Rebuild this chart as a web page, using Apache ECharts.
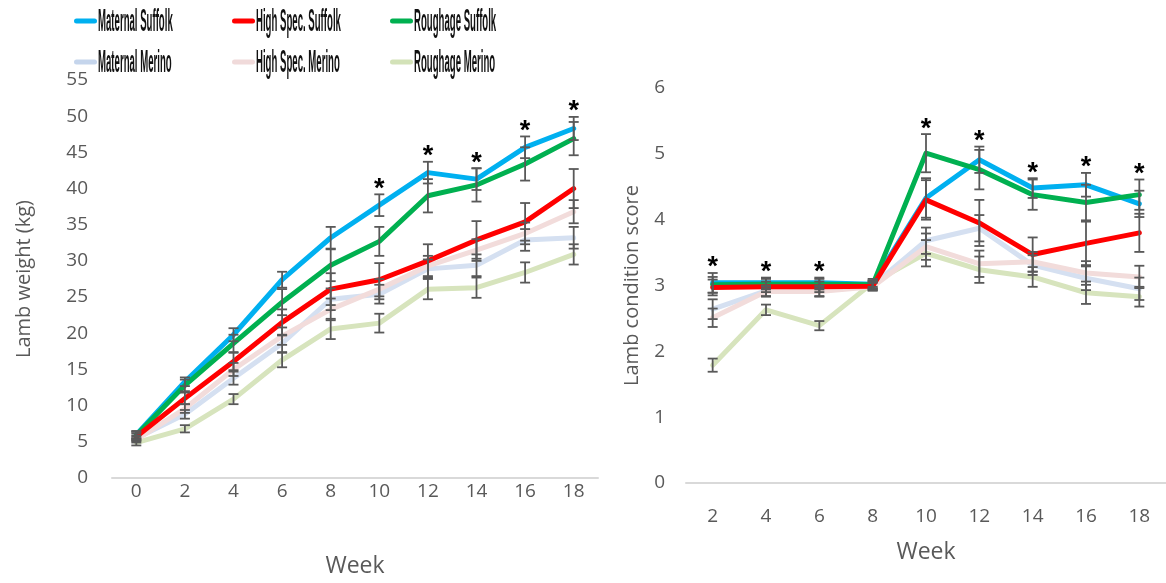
<!DOCTYPE html>
<html>
<head>
<meta charset="utf-8">
<script src="https://cdn.jsdelivr.net/npm/echarts@6/dist/echarts.min.js"></script>
<style>
  html, body { margin: 0; padding: 0; background: #fff; }
  #chart { width: 1166px; height: 583px; }
</style>
</head>
<body>
<div id="chart"></div>
<script>
// Weeks on each panel
const weeksWeight = ['0', '2', '4', '6', '8', '10', '12', '14', '16', '18'];
const weeksScore = ['2', '4', '6', '8', '10', '12', '14', '16', '18'];

// Group names (legend order)
const groupNames = ['Maternal Suffolk', 'High Spec. Suffolk', 'Roughage Suffolk',
                    'Maternal Merino', 'High Spec. Merino', 'Roughage Merino'];

// Lamb weight (kg), mean per week
const weightMaternalSuffolk = [6.0, 13.3, 19.8, 27.4, 33.2, 37.7, 42.2, 41.3, 45.7, 48.3];
const weightHighSpecSuffolk = [5.7, 11.0, 16.1, 21.5, 26.1, 27.4, 30.0, 32.9, 35.4, 40.0];
const weightRoughageSuffolk = [5.9, 12.8, 18.6, 24.3, 29.4, 32.7, 39.0, 40.5, 43.4, 46.9];
const weightMaternalMerino  = [5.5, 8.8, 13.8, 18.6, 24.7, 25.4, 28.9, 29.4, 32.9, 33.2];
const weightHighSpecMerino  = [5.3, 9.6, 15.0, 19.6, 23.3, 26.1, 29.3, 31.5, 33.8, 36.8];
const weightRoughageMerino  = [4.9, 6.8, 10.9, 16.3, 20.6, 21.4, 26.1, 26.3, 28.4, 30.9];

// Lamb weight standard errors
const weightErrMaternalSuffolk = [0.5, 0.6, 0.9, 1.1, 1.5, 1.5, 1.5, 1.5, 1.5, 1.6];
const weightErrHighSpecSuffolk = [0.5, 0.8, 1.2, 1.8, 2.2, 2.3, 2.3, 2.6, 2.6, 2.7];
const weightErrRoughageSuffolk = [0.5, 0.8, 1.2, 1.8, 2.2, 2.0, 2.3, 2.3, 2.3, 2.3];
const weightErrMaternalMerino  = [0.4, 0.6, 0.9, 1.2, 1.5, 1.3, 1.3, 1.5, 1.5, 1.5];
const weightErrHighSpecMerino  = [0.4, 0.6, 0.9, 1.2, 1.5, 1.4, 1.4, 1.5, 1.5, 1.6];
const weightErrRoughageMerino  = [0.4, 0.5, 0.7, 1.0, 1.4, 1.3, 1.4, 1.4, 1.4, 1.4];

// Lamb condition score, mean per week
const scoreMaternalSuffolk = [3.04, 3.04, 3.04, 3.02, 4.33, 4.91, 4.48, 4.53, 4.24];
const scoreHighSpecSuffolk = [2.97, 2.98, 2.98, 2.99, 4.30, 3.95, 3.47, 3.64, 3.80];
const scoreRoughageSuffolk = [3.01, 3.02, 3.02, 3.01, 5.01, 4.76, 4.38, 4.26, 4.38];
const scoreMaternalMerino  = [2.64, 2.92, 2.92, 3.00, 3.68, 3.87, 3.31, 3.11, 2.95];
const scoreHighSpecMerino  = [2.51, 2.91, 2.91, 2.98, 3.59, 3.33, 3.36, 3.19, 3.13];
const scoreRoughageMerino  = [1.79, 2.63, 2.39, 3.04, 3.49, 3.24, 3.13, 2.89, 2.83];

// Condition score standard errors
const scoreErrMaternalSuffolk = [0.15, 0.08, 0.08, 0.06, 0.30, 0.20, 0.15, 0.18, 0.20];
const scoreErrHighSpecSuffolk = [0.12, 0.08, 0.08, 0.06, 0.30, 0.35, 0.26, 0.33, 0.29];
const scoreErrRoughageSuffolk = [0.12, 0.08, 0.08, 0.06, 0.29, 0.30, 0.23, 0.27, 0.23];
const scoreErrMaternalMerino  = [0.15, 0.08, 0.08, 0.06, 0.20, 0.20, 0.15, 0.18, 0.17];
const scoreErrHighSpecMerino  = [0.14, 0.08, 0.08, 0.06, 0.20, 0.20, 0.15, 0.18, 0.17];
const scoreErrRoughageMerino  = [0.10, 0.08, 0.07, 0.06, 0.20, 0.20, 0.15, 0.17, 0.15];

// Weeks with a significant difference (1 = marked with *)
const sigWeight = [0, 0, 0, 0, 0, 1, 1, 1, 1, 1];
const sigScore  = [1, 1, 1, 0, 1, 1, 1, 1, 1];

// Axis ticks
const weightTicks = { min: 0, max: 55, interval: 5 };
const scoreTicks  = { min: 0, max: 6, interval: 1 };

const colors = ['#00B0F0', '#FF0000', '#00B050', '#D5E0F1', '#F2DCDB', '#D7E4BD'];
const legendColors = ['#00B0F0', '#FF0000', '#00B050', '#C5D5EC', '#F0DADA', '#D3E2B8'];

const weightMeans = [weightMaternalSuffolk, weightHighSpecSuffolk, weightRoughageSuffolk,
                     weightMaternalMerino, weightHighSpecMerino, weightRoughageMerino];
const weightErrs = [weightErrMaternalSuffolk, weightErrHighSpecSuffolk, weightErrRoughageSuffolk,
                    weightErrMaternalMerino, weightErrHighSpecMerino, weightErrRoughageMerino];
const scoreMeans = [scoreMaternalSuffolk, scoreHighSpecSuffolk, scoreRoughageSuffolk,
                    scoreMaternalMerino, scoreHighSpecMerino, scoreRoughageMerino];
const scoreErrs = [scoreErrMaternalSuffolk, scoreErrHighSpecSuffolk, scoreErrRoughageSuffolk,
                   scoreErrMaternalMerino, scoreErrHighSpecMerino, scoreErrRoughageMerino];

// Paint order: pale Merino lines underneath, Suffolk lines on top (red last)
const drawOrder = [5, 3, 4, 0, 2, 1];

const AXIS_GREY = '#595959';
const FONT = '"Open Sans", "DejaVu Sans", sans-serif';

function errorBarData(means, errs) {
  const out = [];
  means.forEach((arr, s) => {
    arr.forEach((v, i) => out.push([i, v - errs[s][i], v + errs[s][i]]));
  });
  return out;
}

function starData(means, errs, sig) {
  const out = [];
  sig.forEach((flag, i) => {
    if (!flag) return;
    let top = -Infinity;
    means.forEach((arr, s) => { top = Math.max(top, arr[i] + errs[s][i]); });
    out.push([i, top]);
  });
  return out;
}

function renderErrorBar(params, api) {
  const hi = api.coord([api.value(0), api.value(2)]);
  const lo = api.coord([api.value(0), api.value(1)]);
  const half = 5;
  const style = { stroke: AXIS_GREY, lineWidth: 1.8 };
  return {
    type: 'group',
    children: [
      { type: 'line', shape: { x1: hi[0], y1: hi[1], x2: lo[0], y2: lo[1] }, style },
      { type: 'line', shape: { x1: hi[0] - half, y1: hi[1], x2: hi[0] + half, y2: hi[1] }, style },
      { type: 'line', shape: { x1: lo[0] - half, y1: lo[1], x2: lo[0] + half, y2: lo[1] }, style }
    ]
  };
}

function renderStar(params, api) {
  const p = api.coord([api.value(0), api.value(1)]);
  return {
    type: 'text',
    x: p[0],
    y: p[1] - 5,
    style: {
      text: '*', align: 'center', verticalAlign: 'middle',
      fontSize: 27, fontWeight: 'bold',
      fontFamily: '"Liberation Sans", Arial, sans-serif', fill: '#000'
    }
  };
}

const series = [];
[[weightMeans, 0], [scoreMeans, 1]].forEach(([means, g]) => {
  drawOrder.forEach(s => {
    series.push({
      name: groupNames[s],
      type: 'line',
      xAxisIndex: g, yAxisIndex: g,
      data: means[s],
      showSymbol: false,
      symbol: 'none',
      lineStyle: { color: colors[s], width: 5, cap: 'round', join: 'round' },
      itemStyle: { color: colors[s] },
      z: 2,
      animation: false
    });
  });
});
series.push({
  type: 'custom', xAxisIndex: 0, yAxisIndex: 0,
  data: errorBarData(weightMeans, weightErrs), renderItem: renderErrorBar,
  encode: { x: 0, y: [1, 2] }, z: 5, silent: true, animation: false
});
series.push({
  type: 'custom', xAxisIndex: 1, yAxisIndex: 1,
  data: errorBarData(scoreMeans, scoreErrs), renderItem: renderErrorBar,
  encode: { x: 0, y: [1, 2] }, z: 5, silent: true, animation: false
});
series.push({
  type: 'custom', xAxisIndex: 0, yAxisIndex: 0,
  data: starData(weightMeans, weightErrs, sigWeight), renderItem: renderStar,
  encode: { x: 0, y: 1 }, z: 6, silent: true, animation: false, clip: false
});
series.push({
  type: 'custom', xAxisIndex: 1, yAxisIndex: 1,
  data: starData(scoreMeans, scoreErrs, sigScore), renderItem: renderStar,
  encode: { x: 0, y: 1 }, z: 6, silent: true, animation: false, clip: false
});

// Legend: two rows of three, line swatch plus condensed label
const legendCols = [74, 232, 390];
const legendRows = [21, 62];
const legendGraphics = [];
groupNames.forEach((name, i) => {
  const x = legendCols[i % 3];
  const y = legendRows[Math.floor(i / 3)];
  legendGraphics.push({
    type: 'rect', x: x, y: y - 2.5,
    shape: { width: 23, height: 5, r: 2.5 },
    style: { fill: legendColors[i] }
  });
  legendGraphics.push({
    type: 'text', x: x + 24, y: y + 1, scaleX: 0.31, scaleY: 1,
    style: {
      text: name, fill: '#111', verticalAlign: 'middle', align: 'left',
      fontSize: 31, fontWeight: 'bold',
      fontFamily: '"Liberation Sans", Arial, sans-serif'
    }
  });
});

function xAxisFor(data, gridIndex, labelMargin, nameGap) {
  return {
    type: 'category', gridIndex, data,
    boundaryGap: true,
    name: 'Week', nameLocation: 'middle', nameGap,
    nameTextStyle: { color: AXIS_GREY, fontSize: 23, fontFamily: FONT },
    axisLine: { show: true, lineStyle: { color: '#D9D9D9', width: 2 } },
    axisTick: { show: false },
    axisLabel: { color: AXIS_GREY, fontSize: 19, fontFamily: FONT, margin: labelMargin, interval: 0 },
    splitLine: { show: false }
  };
}

function yAxisFor(ticks, gridIndex, name, nameGap, labelMargin) {
  return {
    type: 'value', gridIndex,
    min: ticks.min, max: ticks.max, interval: ticks.interval,
    name, nameLocation: 'middle', nameGap,
    nameTextStyle: { color: AXIS_GREY, fontSize: 20, fontFamily: FONT },
    axisLine: { show: false }, axisTick: { show: false },
    axisLabel: { color: AXIS_GREY, fontSize: 19, fontFamily: FONT, margin: labelMargin },
    splitLine: { show: false }
  };
}

const option = {
  backgroundColor: '#fff',
  animation: false,
  grid: [
    { left: 112, top: 80, width: 486, height: 403 },
    { left: 686, top: 88, width: 486, height: 395 }
  ],
  xAxis: [
    xAxisFor(weeksWeight, 0, 4, 77),
    xAxisFor(weeksScore, 1, 24, 58)
  ],
  yAxis: [
    yAxisFor(weightTicks, 0, 'Lamb weight (kg)', 78, 24),
    yAxisFor(scoreTicks, 1, 'Lamb condition score', 44, 21)
  ],
  graphic: legendGraphics,
  series
};

const chart = echarts.init(document.getElementById('chart'), null, { renderer: 'canvas' });
chart.setOption(option);
</script>
</body>
</html>
